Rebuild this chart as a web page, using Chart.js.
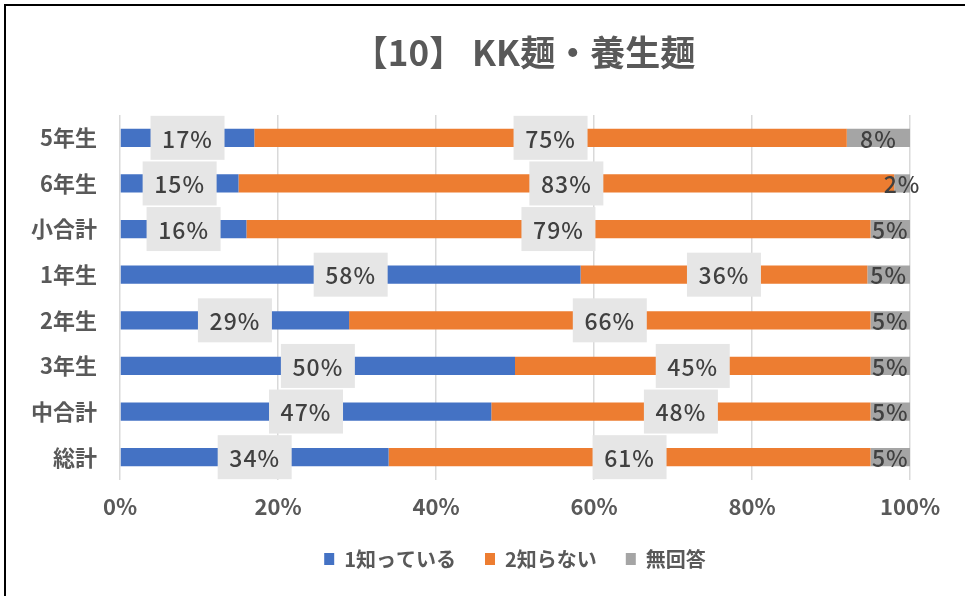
<!DOCTYPE html>
<html>
<head>
<meta charset="utf-8">
<script src="https://cdn.jsdelivr.net/npm/chart.js@4/dist/chart.umd.min.js"></script>
<style>
  body { margin: 0; background: #fff; }
  canvas { display: block; }
</style>
</head>
<body>
<canvas id="chart" width="965" height="596"></canvas>
<script>
// Grades / totals (top to bottom)
const categories = ['5年生', '6年生', '小合計', '1年生', '2年生', '3年生', '中合計', '総計'];
// Share of answers in %
const knowValues = [17, 15, 16, 58.3, 29, 50, 47, 34];      // 1知っている
const dontKnowValues = [75, 83, 79, 36.3, 66, 45, 48, 61];  // 2知らない
const noAnswerValues = [8, 2, 5, 5.4, 5, 5, 5, 5];          // 無回答
const xTicks = [0, 20, 40, 60, 80, 100];

const FONT = '"Noto Sans CJK JP", "Noto Sans", sans-serif';
const TEXT_GRAY = '#595959';

// Title + frame drawn on the canvas
const framePlugin = {
    id: 'frame',
    beforeDraw(chart) {
        const ctx = chart.ctx;
        ctx.save();
        ctx.fillStyle = '#fff';
        ctx.fillRect(0, 0, chart.width, chart.height);
        ctx.restore();
    },
    afterDraw(chart) {
        const ctx = chart.ctx;
        ctx.save();
        ctx.strokeStyle = '#000';
        ctx.lineWidth = 2;
        ctx.beginPath();
        ctx.moveTo(5, chart.height);
        ctx.lineTo(5, 5);
        ctx.lineTo(chart.width, 5);
        ctx.stroke();
        ctx.fillStyle = TEXT_GRAY;
        ctx.font = 'bold 35px ' + FONT;
        ctx.textAlign = 'center';
        ctx.textBaseline = 'middle';
        ctx.fillText('【10】 KK麺・養生麺', 524, 53);
        ctx.restore();
    }
};

// Percentage labels in the middle of each segment
const valueLabels = {
    id: 'valueLabels',
    afterDatasetsDraw(chart) {
        const ctx = chart.ctx;
        ctx.save();
        ctx.font = '500 23px ' + FONT;
        ctx.letterSpacing = '1px';
        ctx.textAlign = 'center';
        ctx.textBaseline = 'middle';
        chart.data.datasets.forEach((ds, di) => {
            const meta = chart.getDatasetMeta(di);
            meta.data.forEach((bar, i) => {
                const text = Math.round(ds.data[i]) + '%';
                const cx = (bar.x + bar.base) / 2;
                const cy = bar.y;
                if (di < 2) {
                    ctx.fillStyle = '#e6e6e6';
                    ctx.fillRect(cx - 37, cy - 22, 74, 44);
                }
                ctx.fillStyle = '#404040';
                ctx.fillText(text, cx, cy + 1);
            });
        });
        ctx.restore();
    }
};

const ctx = document.getElementById('chart').getContext('2d');
new Chart(ctx, {
    type: 'bar',
    data: {
        labels: categories,
        datasets: [
            { label: '1知っている', data: knowValues, backgroundColor: '#4472C4' },
            { label: '2知らない', data: dontKnowValues, backgroundColor: '#ED7D31' },
            { label: '無回答', data: noAnswerValues, backgroundColor: '#A5A5A5' }
        ]
    },
    options: {
        indexAxis: 'y',
        responsive: false,
        animation: false,
        barPercentage: 0.4,
        categoryPercentage: 1,
        layout: { padding: { top: 115, left: 0, right: 55, bottom: 17 } },
        scales: {
            x: {
                stacked: true,
                min: 0,
                max: 100,
                afterBuildTicks: scale => { scale.ticks = xTicks.map(v => ({ value: v })); },
                afterFit: scale => { scale.height = 40; },
                grid: { color: '#d9d9d9', lineWidth: 1.5, drawTicks: false },
                border: { display: false },
                ticks: {
                    padding: 13,
                    color: TEXT_GRAY,
                    font: { family: FONT, size: 22, weight: 'bold' },
                    callback: v => v + '%'
                }
            },
            y: {
                stacked: true,
                afterFit: scale => { scale.width = 120; },
                grid: { display: false, drawTicks: false },
                border: { display: false },
                ticks: {
                    padding: 23,
                    color: TEXT_GRAY,
                    font: { family: FONT, size: 22, weight: 'bold' }
                }
            }
        },
        plugins: {
            title: { display: false },
            tooltip: { enabled: false },
            legend: {
                position: 'bottom',
                fullSize: false,
                labels: {
                    boxWidth: 10,
                    boxHeight: 12,
                    padding: 29,
                    color: TEXT_GRAY,
                    font: { family: FONT, size: 20, weight: 'bold' }
                }
            }
        }
    },
    plugins: [framePlugin, valueLabels]
});
</script>
</body>
</html>
